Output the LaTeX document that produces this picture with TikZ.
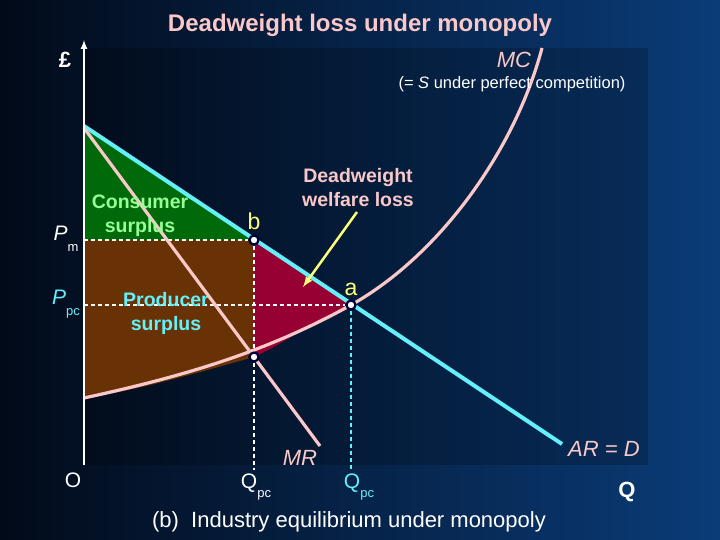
\documentclass[tikz,border=0pt]{standalone}
\usepackage{fontspec}
\setmainfont{Liberation Sans}
\begin{document}
\begin{tikzpicture}[x=1pt,y=-1pt,
  lbl/.style={inner sep=0pt},
  dot/.style={circle,draw=black!60!blue!60!black,line width=2.2pt,fill=white,inner sep=0pt,minimum size=9pt},
  dline/.style={dash pattern=on 4pt off 3pt,line width=1.3pt}]
\definecolor{pinkc}{RGB}{250,200,200}
\definecolor{cyanc}{RGB}{100,240,250}
\definecolor{bgl}{RGB}{2,10,25}
\definecolor{bgr}{RGB}{10,60,120}
\definecolor{greenc}{RGB}{0,105,10}
\definecolor{brownc}{RGB}{105,50,5}
\definecolor{redc}{RGB}{150,0,50}
\definecolor{lgreen}{RGB}{150,255,150}
\definecolor{yel}{RGB}{255,255,120}
\useasboundingbox (0,0) rectangle (720,540);
\shade[left color=bgl,right color=bgr] (0,0) rectangle (720,540);
\fill[black,opacity=0.2] (84,48) rectangle (648,465);
% regions
\fill[greenc] (84,126) -- (254,240) -- (84,240) -- cycle;
\fill[brownc] (84,240) -- (254,240) -- (254,357) .. controls (190,375) and (130,392) .. (84,398) -- cycle;
\fill[redc] (254,240) -- (351,305) .. controls (315,320) and (285,343) .. (254,357) -- cycle;
% dashed
\coordinate (pm) at (84,240); \coordinate (ppc) at (84,305);
\coordinate (q1) at (254,470); \coordinate (q2) at (351,470);
\node[dot] (b) at (254,240) {};
\node[dot] (a) at (351,305) {};
\node[dot] (c) at (254,357) {};
\draw[dline,white] (pm) -- (b.west);
\draw[dline,white] (ppc) -- (a.west);
\draw[dline,white] (b.south) -- (c.north);
\draw[dline,white] (c.south) -- (q1);
\draw[dline,cyanc] (a.south) -- (q2);
% curves
\coordinate (ars) at (84,126); \coordinate (are) at (562,444);
\coordinate (mrs) at (84,128); \coordinate (mre) at (320,446);
\draw[cyanc,line width=4pt] (ars) -- (are);
\draw[pinkc,line width=3.2pt] (mrs) -- (mre);
\draw[pinkc,line width=3.2pt] (84,398) .. controls (190,375) and (270,350) .. (351,305) .. controls (440,255) and (515,150) .. (542,48);
\node[dot] at (254,240) {};
\node[dot] at (351,305) {};
\node[dot] at (254,357) {};
% axis
\coordinate (ax0) at (84,465); \coordinate (ax1) at (84,40);
\draw[white,line width=2pt,-latex] (ax0) -- (ax1);
% texts
\node[lbl,pinkc,font=\bfseries\fontsize{24}{26}\selectfont] (t) at (360,25) {Deadweight loss under monopoly};
\node[lbl,white,font=\bfseries\fontsize{22}{24}\selectfont] (pound) at (65,60) {£};
\node[lbl,pinkc,font=\itshape\fontsize{22}{24}\selectfont] (mc) at (514,60) {MC};
\node[lbl,white,font=\fontsize{16.5}{18}\selectfont] (ps) at (512,84) {(= \textit{S} under perfect competition)};
\node[lbl,pinkc,font=\bfseries\fontsize{19.5}{24}\selectfont,align=center] (dw) at (358,188) {Deadweight\\welfare loss};
\coordinate (arrs) at (357,212);
\draw[yel,line width=2.5pt,-latex] (arrs) -- (303,287);
\node[lbl,yel,font=\fontsize{23}{25}\selectfont] (bl) at (254,221) {b};
\node[lbl,yel,font=\fontsize{23}{25}\selectfont] (al) at (351,289) {a};
\node[lbl,lgreen,font=\bfseries\fontsize{19.5}{24}\selectfont,align=center] (cs) at (140,216) {Consumer\\surplus};
\node[lbl,cyanc,font=\bfseries\fontsize{19.5}{24}\selectfont,align=center] (prs) at (166,313) {Producer\\surplus};
\node[lbl,white,font=\fontsize{21}{23}\selectfont] (pml) at (66,239) {\textit{P}\raisebox{-1ex}{\fontsize{13}{14}\selectfont m}};
\node[lbl,cyanc,font=\fontsize{21}{23}\selectfont] (ppcl) at (66,304) {\textit{P}\raisebox{-1ex}{\fontsize{13}{14}\selectfont pc}};
\node[lbl,white,font=\fontsize{21}{23}\selectfont] (o) at (73,480) {O};
\node[lbl,white,font=\fontsize{21}{23}\selectfont] (q1l) at (256,487) {Q\raisebox{-0.8ex}{\fontsize{13}{14}\selectfont pc}};
\node[lbl,cyanc,font=\fontsize{21}{23}\selectfont] (q2l) at (359,487) {Q\raisebox{-0.8ex}{\fontsize{13}{14}\selectfont pc}};
\node[lbl,pinkc,font=\itshape\fontsize{22}{24}\selectfont] (mrl) at (300,458) {MR};
\node[lbl,pinkc,font=\itshape\fontsize{22}{24}\selectfont] (ard) at (604,449) {AR = D};
\node[lbl,white,font=\bfseries\fontsize{22}{24}\selectfont] (ql) at (627,492) {Q};
\node[lbl,white,font=\fontsize{22}{24}\selectfont] (bt) at (349,522) {(b)\ \ Industry equilibrium under monopoly};
\end{tikzpicture}
\end{document}
